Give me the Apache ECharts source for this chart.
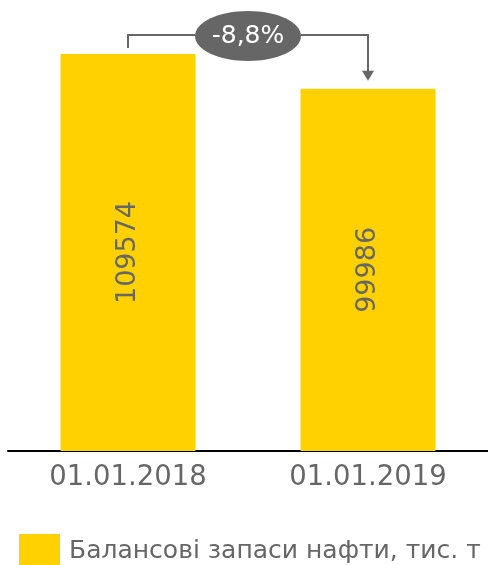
<!DOCTYPE html>
<html>
<head>
<meta charset="utf-8">
<script src="https://cdn.jsdelivr.net/npm/echarts@6/dist/echarts.min.js"></script>
<style>
  html, body { margin: 0; padding: 0; background: #fff; }
  #chart { width: 488px; height: 565px; }
</style>
</head>
<body>
<div id="chart"></div>
<script>
// дані
const categories = ['01.01.2018', '01.01.2019']
const reserves = [109574, 99986]
const seriesName = 'Балансові запаси нафти, тис. т'
const changeLabel = '-8,8%'

const FONT = 'DejaVu Sans'
const GREY = '#666666'

const chart = echarts.init(document.getElementById('chart'))

chart.setOption({
  animation: false,
  grid: { top: 54, left: 8, width: 483, bottom: 114 },
  legend: {
    data: [seriesName],
    left: 14,
    top: 529,
    itemWidth: 41,
    itemHeight: 34,
    icon: 'rect',
    textStyle: { fontFamily: FONT, fontSize: 25, color: GREY, padding: [0, 0, 0, 4] }
  },
  xAxis: {
    type: 'category',
    data: categories,
    axisLine: { lineStyle: { color: '#000', width: 2 } },
    axisTick: { show: false },
    axisLabel: { fontFamily: FONT, fontSize: 27.5, color: GREY, margin: 13 }
  },
  yAxis: {
    type: 'value',
    min: 0,
    max: 'dataMax',
    show: false
  },
  series: [{
    name: seriesName,
    type: 'bar',
    data: reserves,
    barWidth: 135,
    itemStyle: { color: '#FFD100' },
    label: {
      show: true,
      position: 'inside',
      rotate: 90,
      fontFamily: FONT,
      fontSize: 27,
      color: GREY
    }
  }]
})

// стрілка зміни між двома стовпцями
const p1 = chart.convertToPixel({ seriesIndex: 0 }, [0, reserves[0]])
const p2 = chart.convertToPixel({ seriesIndex: 0 }, [1, reserves[1]])
const lineY = 35
const midX = (p1[0] + p2[0]) / 2
const rx = 53
const ry = 25
const lineStyle = { stroke: GREY, lineWidth: 2, fill: null }

chart.setOption({
  graphic: [
    {
      type: 'polyline',
      shape: { points: [[p1[0], p1[1] - 6], [p1[0], lineY], [midX - rx, lineY]] },
      style: lineStyle
    },
    {
      type: 'polyline',
      shape: { points: [[midX + rx, lineY], [p2[0], lineY], [p2[0], p2[1] - 16]] },
      style: lineStyle
    },
    {
      type: 'polygon',
      shape: { points: [[p2[0] - 6, p2[1] - 18], [p2[0] + 6, p2[1] - 18], [p2[0], p2[1] - 8]] },
      style: { fill: GREY }
    },
    {
      type: 'ellipse',
      shape: { cx: midX, cy: lineY + 1, rx: rx, ry: ry },
      style: { fill: GREY }
    },
    {
      type: 'text',
      x: midX,
      y: lineY + 1,
      style: {
        text: changeLabel,
        fill: '#fff',
        fontFamily: FONT,
        fontSize: 25,
        align: 'center',
        verticalAlign: 'middle'
      }
    }
  ]
})
</script>
</body>
</html>
